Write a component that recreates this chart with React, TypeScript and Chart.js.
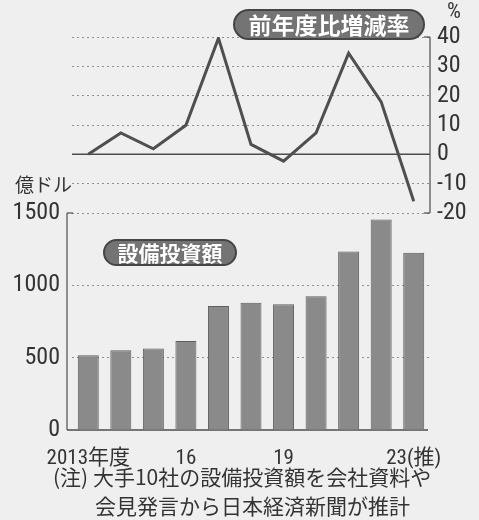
import React, { useEffect, useRef } from 'react';
import { Chart, registerables } from 'chart.js';

Chart.register(...registerables);

// ---- data ----
const YEARS = ['2013', '2014', '2015', '2016', '2017', '2018', '2019', '2020', '2021', '2022', '2023'];
const X_LABELS = ['2013年度', '', '', '16', '', '', '19', '', '', '', '23(推)'];
const CAPEX = [517, 552, 563, 616, 857, 880, 869, 924, 1234, 1455, 1225]; // 億ドル
const GROWTH = [0, 7.3, 1.9, 9.9, 39.6, 3.4, -2.3, 7.3, 34.5, 17.9, -16]; // %
const BAR_TICKS = [0, 500, 1000, 1500];
const LINE_TICKS = [-20, -10, 0, 10, 20, 30, 40];

// ---- layout ----
const W = 479;
const H = 520;
const AREA_TOP = 37;
const AREA_BOTTOM = 430;
const AREA_LEFT = 72;
const AREA_RIGHT = 430;
const BAR_TOP_PX = 213; // pixel row where 1500 and -20 meet
const BAR_MAX = 1500 * (AREA_BOTTOM - AREA_TOP) / (AREA_BOTTOM - BAR_TOP_PX);
const LINE_PX_PER = (BAR_TOP_PX - AREA_TOP) / 60;
const LINE_MIN = -20 - (AREA_BOTTOM - BAR_TOP_PX) / LINE_PX_PER;

const NUM_FONT = "'Roboto Condensed', 'Noto Sans CJK JP', sans-serif";
const JP_FONT = "'Noto Sans CJK JP', 'Roboto Condensed', sans-serif";
const INK = '#333333';
const GRID = '#8f8f8f';
const AXIS = '#4d4d4d';

const decor = {
  id: 'decor',
  beforeDatasetsDraw(chart: any) {
    const { ctx, chartArea: a, scales } = chart;
    const y = scales.y;
    const y2 = scales.y2;
    ctx.save();
    ctx.strokeStyle = AXIS;
    ctx.lineWidth = 1.5;
    const seg = (x1: number, y1: number, x2: number, yy2: number) => {
      ctx.beginPath();
      ctx.moveTo(x1, y1);
      ctx.lineTo(x2, yy2);
      ctx.stroke();
    };
    // zero line of growth chart
    const z = y2.getPixelForValue(0);
    seg(a.left, z, a.right, z);
    // right bracket axis
    const t40 = y2.getPixelForValue(40);
    const tm20 = y2.getPixelForValue(-20);
    ctx.lineWidth = 1.2;
    seg(a.right, t40, a.right, tm20);
    seg(a.right - 6, t40, a.right, t40);
    seg(a.right - 6, tm20, a.right, tm20);
    // left axis of bar chart
    const lx = a.left - 5;
    const b0 = y.getPixelForValue(0);
    const b1500 = y.getPixelForValue(1500);
    seg(lx, b1500, lx, b0);
    seg(lx, b1500, lx + 6, b1500);
    ctx.lineWidth = 1.6;
    seg(lx, b0, a.right - 2, b0);
    ctx.restore();
  },
};

export default function App() {
  const ref = useRef<HTMLCanvasElement | null>(null);

  useEffect(() => {
    document.body.style.margin = '0';
    const canvas = ref.current;
    if (!canvas) return;
    const chart = new Chart(canvas, {
      type: 'bar',
      data: {
        labels: YEARS,
        datasets: [
          {
            type: 'line',
            label: '前年度比増減率',
            data: GROWTH,
            yAxisID: 'y2',
            borderColor: '#4f4f4f',
            borderWidth: 3,
            pointRadius: 0,
            tension: 0,
            fill: false,
            order: 0,
          } as any,
          {
            type: 'bar',
            label: '設備投資額',
            data: CAPEX,
            yAxisID: 'y',
            backgroundColor: '#8a8a8a',
            borderColor: '#5e5e5e',
            borderWidth: 1,
            categoryPercentage: 1,
            barPercentage: 0.645,
            order: 1,
          } as any,
        ],
      },
      options: {
        responsive: false,
        animation: false,
        devicePixelRatio: 1,
        layout: { padding: { top: AREA_TOP, left: 0, right: 0, bottom: 0 } },
        plugins: { legend: { display: false }, tooltip: { enabled: false }, title: { display: false } },
        scales: {
          x: {
            type: 'category',
            offset: true,
            grid: { display: false },
            border: { display: false },
            ticks: {
              autoSkip: false,
              maxRotation: 0,
              minRotation: 0,
              padding: 8,
              color: INK,
              font: { family: NUM_FONT, size: 21 },
              callback: (_v: any, i: number) => X_LABELS[i],
            },
            afterFit: (s: any) => {
              s.height = H - AREA_BOTTOM;
            },
          },
          y: {
            type: 'linear',
            position: 'left',
            min: 0,
            max: BAR_MAX,
            afterBuildTicks: (s: any) => {
              s.ticks = BAR_TICKS.map((v) => ({ value: v }));
            },
            afterFit: (s: any) => {
              s.width = AREA_LEFT;
            },
            grid: {
              drawTicks: false,
              lineWidth: 1,
              color: (c: any) => (c.tick && c.tick.value === 0 ? 'rgba(0,0,0,0)' : GRID),
            },
            border: { display: false, dash: [2, 3] },
            ticks: {
              padding: 12,
              color: INK,
              font: { family: NUM_FONT, size: 24 },
              callback: (v: any) => String(v),
            },
          },
          y2: {
            type: 'linear',
            position: 'right',
            min: LINE_MIN,
            max: 40,
            afterBuildTicks: (s: any) => {
              s.ticks = LINE_TICKS.map((v) => ({ value: v }));
            },
            afterFit: (s: any) => {
              s.width = W - AREA_RIGHT;
            },
            grid: {
              drawTicks: false,
              lineWidth: 1,
              color: (c: any) =>
                c.tick && (c.tick.value === 0 || c.tick.value === -20) ? 'rgba(0,0,0,0)' : GRID,
            },
            border: { display: false, dash: [2, 3] },
            ticks: {
              padding: 7,
              color: INK,
              font: { family: NUM_FONT, size: 24 },
              callback: (v: any) => String(v),
            },
          },
        },
      } as any,
      plugins: [decor],
    });
    return () => chart.destroy();
  }, []);

  const badge = (left: number, top: number, width: number, height: number, size: number): React.CSSProperties => ({
    position: 'absolute',
    left,
    top,
    width,
    height,
    boxSizing: 'border-box',
    borderRadius: height / 2,
    background: '#747474',
    border: '2px solid #454545',
    color: '#ffffff',
    fontFamily: JP_FONT,
    fontWeight: 700,
    fontSize: size,
    lineHeight: 1,
    display: 'flex',
    alignItems: 'center',
    justifyContent: 'center',
    whiteSpace: 'nowrap',
    textShadow: '0 0 1px #555',
  });

  const text = (left: number, top: number, size: number, family: string): React.CSSProperties => ({
    position: 'absolute',
    left,
    top,
    fontSize: size,
    fontFamily: family,
    color: INK,
    lineHeight: 1,
    whiteSpace: 'nowrap',
  });

  return (
    <div
      style={{
        position: 'absolute',
        left: 0,
        top: 0,
        width: W,
        height: H,
        background: '#efefef',
        overflow: 'hidden',
      }}
    >
      <canvas ref={ref} width={W} height={H} style={{ position: 'absolute', left: 0, top: 0 }} />
      <div style={badge(233, 9, 192, 31, 23)}>前年度比増減率</div>
      <div style={badge(103, 239, 134, 27, 21)}>設備投資額</div>
      <div style={text(447, 0, 22, NUM_FONT)}>%</div>
      <div style={text(15, 174, 19, JP_FONT)}>億ドル</div>
      <div style={text(53, 466, 21, JP_FONT)}>(注) 大手10社の設備投資額を会社資料や</div>
      <div style={text(95, 495, 21, JP_FONT)}>会見発言から日本経済新聞が推計</div>
    </div>
  );
}
